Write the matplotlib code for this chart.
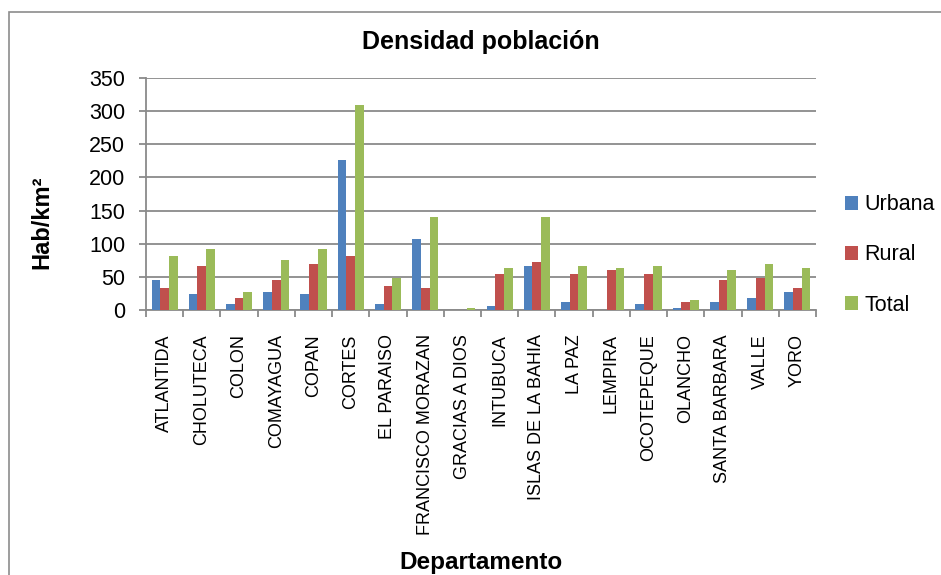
import matplotlib
matplotlib.use("Agg")
import matplotlib.pyplot as plt
import numpy as np
from matplotlib.patches import Rectangle

plt.rcParams['font.family'] = ['Liberation Sans', 'DejaVu Sans']

departamentos = ["ATLANTIDA", "CHOLUTECA", "COLON", "COMAYAGUA", "COPAN", "CORTES",
                 "EL PARAISO", "FRANCISCO MORAZAN", "GRACIAS A DIOS", "INTUBUCA",
                 "ISLAS DE LA BAHIA", "LA PAZ", "LEMPIRA", "OCOTEPEQUE", "OLANCHO",
                 "SANTA BARBARA", "VALLE", "YORO"]
urbana = [45, 24, 9, 27, 24, 227, 9, 107, 0, 6, 66, 12, 0, 9, 3, 12, 18, 27]
rural = [33, 66, 18, 45, 69, 82, 36, 33, 0, 54, 72, 54, 60, 54, 12, 45, 48, 33]
total = [82, 92, 27, 75, 92, 310, 48, 140, 3, 63, 140, 66, 63, 66, 15, 60, 69, 63]
series_names = ["Urbana", "Rural", "Total"]
colors = ["#4F81BD", "#C0504D", "#9BBB59"]
yticks = [0, 50, 100, 150, 200, 250, 300, 350]

W, H = 941, 575
fig = plt.figure(figsize=(W / 100, H / 100), dpi=100)
fig.patch.set_facecolor("white")

# chart border
fig.add_artist(Rectangle((9 / W, -0.1), 1.2, 1 - 12 / H + 0.1, transform=fig.transFigure,
                         fill=False, edgecolor="#8c8c8c", linewidth=1.2))

left, right, top, bottom = 146, 816, 78, 310
ax = fig.add_axes([left / W, 1 - bottom / H, (right - left) / W, (bottom - top) / H])

x = np.arange(len(departamentos))
bw = 0.233
for i, (vals, name, c) in enumerate(zip([urbana, rural, total], series_names, colors)):
    ax.bar(x + (i - 1) * bw, vals, width=bw, color=c, label=name, zorder=3)

ax.set_xlim(-0.5, len(departamentos) - 0.5)
ax.set_ylim(0, 350)
ax.set_yticks(yticks)
ax.set_yticklabels([str(v) for v in yticks], fontsize=15.5)
ax.yaxis.grid(True, color="#8a8a8a", linewidth=1.3, zorder=0)
ax.set_axisbelow(True)

ax.set_xticks(x)
ax.set_xticklabels(departamentos, rotation=90, fontsize=13)
ax.tick_params(axis="x", length=0, pad=17.5)
ax.set_xticks(np.arange(-0.5, len(departamentos)), minor=True)
ax.tick_params(axis="x", which="minor", length=5, color="#8a8a8a", width=1.3)
ax.tick_params(axis="y", length=5, color="#8a8a8a", width=1.3, pad=10)

for s in ["top", "right"]:
    ax.spines[s].set_visible(False)
for s in ["left", "bottom"]:
    ax.spines[s].set_color("#8a8a8a")
    ax.spines[s].set_linewidth(1.3)

fig.text(481 / W, 1 - 42 / H, "Densidad población", ha="center", va="center",
         fontsize=18, fontweight="bold")
fig.text(42 / W, 1 - 222 / H, "Hab/km²", ha="center", va="center", rotation=90,
         fontsize=17, fontweight="bold")
fig.text(481 / W, 1 - 562 / H, "Departamento", ha="center", va="center",
         fontsize=17.5, fontweight="bold")

leg = ax.legend(loc="center left", bbox_to_anchor=(826 / W, 1 - 255 / H),
                bbox_transform=fig.transFigure, frameon=False, fontsize=15.5,
                handlelength=0.6, handleheight=0.6, handletextpad=0.3,
                labelspacing=1.35)

fig.savefig("out.png", dpi=100, facecolor="white")
